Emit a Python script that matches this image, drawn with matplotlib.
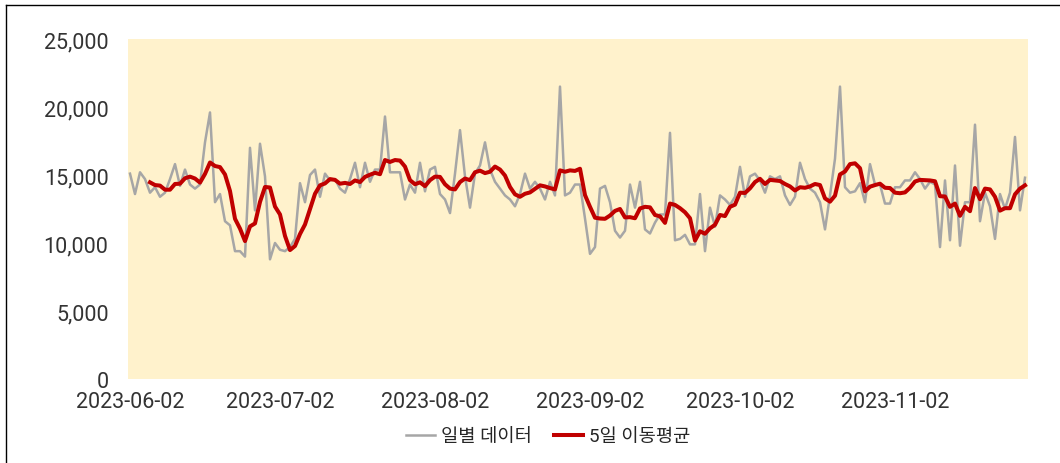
import matplotlib.pyplot as plt
import matplotlib.dates as mdates
from matplotlib.ticker import FuncFormatter
import numpy as np
import pandas as pd

plt.rcParams['font.family'] = ['Roboto', 'Noto Sans CJK KR', 'DejaVu Sans']

# daily counts, 2023-06-02 .. 2023-11-28
start_date = '2023-06-02'
daily = [
    15100, 13600, 15200, 14700, 13700, 14100, 13400, 13700, 14700, 15800,
    14200, 15400, 14300, 14000, 14300, 17400, 19600, 13000, 13600, 11600,
    11300, 9400, 9400, 9000, 17000, 12400, 17300, 14900, 8800, 10000,
    9500, 9400, 9700, 10300, 14400, 13000, 15000, 15400, 13400, 15100,
    14600, 14700, 14000, 13700, 14700, 15900, 14100, 15900, 14500, 15400,
    15400, 19300, 15200, 15200, 15200, 13200, 14300, 13700, 15900, 13800,
    15400, 15600, 13600, 13200, 12200, 15100, 18300, 14900, 12600, 15100,
    15700, 17400, 15400, 14500, 14000, 13500, 13200, 12700, 13600, 15100,
    14000, 14500, 14000, 13200, 14500, 13500, 21500, 13500, 13700, 14300,
    14300, 11800, 9200, 9700, 14000, 14200, 13000, 10900, 10400, 10900,
    14300, 12600, 14500, 11000, 10700, 11500, 12100, 12100, 18100, 10200,
    10300, 10600, 9900, 9900, 13600, 9400, 12600, 11200, 13500, 13200,
    12800, 13400, 15600, 13400, 14900, 15100, 14600, 13700, 14900, 14700,
    14900, 13500, 12800, 13400, 15900, 14700, 14000, 13700, 13000, 11000,
    13500, 16200, 21500, 14100, 13700, 13800, 14400, 13000, 15800, 14300,
    14300, 12900, 12900, 14100, 14100, 14600, 14600, 15200, 14700, 14000,
    14500, 14300, 9700, 14600, 10200, 15700, 9800, 13000, 13000, 18700,
    11600, 13700, 12700, 10300, 13600, 12500, 13700, 17800, 12400, 14800,
]
tick_dates = ['2023-06-02', '2023-07-02', '2023-08-02', '2023-09-02', '2023-10-02', '2023-11-02']
y_ticks = [0, 5000, 10000, 15000, 20000, 25000]
labels = ['일별 데이터', '5일 이동평균']

dates = pd.date_range(start_date, periods=len(daily), freq='D')
s = pd.Series(daily, index=dates)
ma5 = s.rolling(window=5).mean()

fig = plt.figure(figsize=(10.6, 4.64), dpi=100)
ax = fig.add_axes([128/1060, 1 - 380/464, 900/1060, 340/464])
ax.set_facecolor('#FFF2CC')

ax.plot(s.index, s.values, color='#A6A6A6', lw=1.8, label=labels[0])
ax.plot(ma5.index, ma5.values, color='#C00000', lw=2.9, label=labels[1])

ax.set_ylim(0, 25000)
ax.set_yticks(y_ticks)
ax.yaxis.set_major_formatter(FuncFormatter(lambda v, p: f'{int(v):,}'))

x0 = mdates.date2num(dates[0])
ax.set_xlim(x0 - 0.4, x0 + len(daily) - 0.4)
ax.set_xticks(pd.to_datetime(tick_dates))
ax.xaxis.set_major_formatter(mdates.DateFormatter('%Y-%m-%d'))

for sp in ax.spines.values():
    sp.set_visible(False)
ax.tick_params(axis='y', length=0, pad=14, labelsize=15.5, labelcolor='#333333')
ax.tick_params(axis='x', length=0, pad=9, labelsize=15.5, labelcolor='#333333')

fig.legend(loc='center', bbox_to_anchor=(0.517, 0.058), ncol=2, frameon=False,
           fontsize=13.5, handlelength=1.55, handletextpad=0.3, columnspacing=1.2,
           labelcolor='#262626')

# outer frame (top and left edges)
fig.add_artist(plt.Line2D([6/1060, 6/1060], [0, 1 - 6/464], color='black', lw=1))
fig.add_artist(plt.Line2D([6/1060, 1], [1 - 6/464, 1 - 6/464], color='black', lw=1))

fig.savefig('out.png', dpi=100)
